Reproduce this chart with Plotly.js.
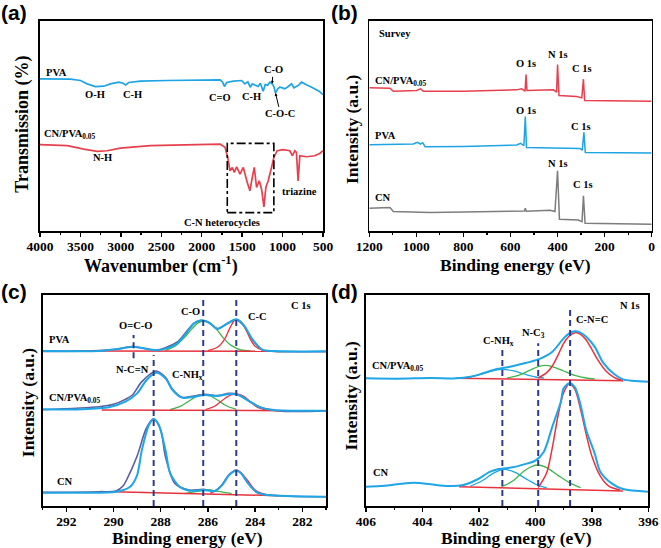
<!DOCTYPE html>
<html><head><meta charset="utf-8">
<script src="https://cdn.plot.ly/plotly-3.0.1.min.js"></script>
<style>html,body{margin:0;padding:0;background:#fff}#chart{width:661px;height:548px}</style>
</head><body><div id="chart"></div>
<script>
// ===== (a) FTIR =====
const ftirPvaWn = [4000,3869,3622,3499,3417,3314,3211,3129,3026,2973,2940,2903,2759,2431,2020,1773,1741,1720,1691,1609,1506,1466,1430,1400,1375,1340,1302,1275,1240,1215,1185,1158,1129,1108,1088,1060,1035,1000,973,930,890,860,829,800,767,720,686,640,603,550,500];
const ftirPvaT  = [455,455,454,450,440,432,433,440,445,442,437,444,448,450,452,452,445,432,444,448,450,440,446,430,440,436,432,442,418,438,436,445,440,432,413,425,430,428,425,432,440,428,432,436,445,438,435,430,425,418,408];
const ftirCnpWn = [4000,3663,3458,3293,3170,3006,2636,2184,1773,1712,1679,1650,1622,1597,1568,1527,1486,1437,1404,1375,1350,1322,1289,1260,1231,1207,1178,1137,1108,1067,993,911,878,849,829,808,787,705,603,541,500];
const ftirCnpT  = [258,255,245,238,240,248,255,258,260,250,220,180,190,175,192,170,190,145,120,160,190,130,150,125,72,130,150,190,220,240,243,240,225,240,235,150,225,222,225,232,240];
const ftirBoxWn = [1684,1108];
const ftirBoxT  = [55,262];

// ===== (b) XPS survey =====
const svCnpBe = [1200,1112,1098,999,982,970,800,574,553,538,534,530,418,404,400,394,319,297,290,285,0];
const svCnpI  = [428,427,418,420,425,418,418,422,425,418,468,420,422,415,498,405,402,398,454,390,388];
const svPvaBe = [1200,1013,996,982,973,963,800,574,557,543,537,532,305,295,288,282,0];
const svPvaI  = [258,260,265,260,264,252,253,257,262,255,342,250,247,242,295,235,233];
const svCnBe  = [1200,1112,1098,942,800,541,537,533,432,411,400,392,312,296,290,283,0];
const svCnI   = [68,70,58,55,57,60,68,59,62,58,180,35,33,28,105,23,20];

// ===== (c) C 1s =====
const cPvaRawBe = [293.0,290.6,289.9,289.2,288.8,288.2,287.8,287.3,286.9,286.6,286.3,286.0,285.6,285.2,284.8,284.5,284.1,283.7,283.2,281.0];
const cPvaRawI  = [464,466,470,478,474,468,475,492,524,548,556,553,532,546,559,542,497,468,464,463];
const cPvaFitBe = [293.0,290.6,289.9,289.2,288.8,288.2,287.8,287.3,286.9,286.6,286.3,285.9,285.6,285.2,284.8,284.5,284.1,283.7,283.2,281.0];
const cPvaFitI  = [465,465,470,478,474,467,472,488,520,547,557,547,531,547,560,544,499,469,465,464];
const cPvaCoBe  = [287.8,287.4,287.0,286.7,286.4,286.2,285.9,285.6,285.3,285.0,284.6,284.2];
const cPvaCoI   = [467,479,505,530,550,555,548,527,500,481,468,465];
const cPvaCcBe  = [286.0,285.6,285.3,285.1,284.9,284.8,284.6,284.4,284.2,284.0,283.7,283.4];
const cPvaCcI   = [466,476,500,530,555,559,553,530,500,479,468,465];
const cPvaBaseBe = [291.0,282.5];
const cPvaBaseI  = [465,464];

const cCnpRawBe = [293.0,290.6,290.0,289.5,289.2,288.8,288.2,287.8,287.5,287.1,286.6,286.1,285.6,285.1,284.7,284.3,283.8,283.0,281.0];
const cCnpRawI  = [289,298,305,320,333,373,405,386,350,326,330,335,331,338,334,317,297,285,285];
const cCnpFitBe = [293.0,291.3,290.2,289.5,289.0,288.6,288.2,287.8,287.5,287.1,286.6,286.1,285.6,285.1,284.7,284.3,283.8,283.2,281.0];
const cCnpFitI  = [290,290,296,313,338,378,400,383,348,325,328,333,330,336,333,316,296,288,286];
const cCnpNhBe  = [287.6,287.2,286.8,286.5,286.2,285.9,285.6,285.2,284.8];
const cCnpNhI   = [289,298,315,328,333,330,318,300,290];
const cCnpCcBe  = [286.1,285.7,285.3,285.0,284.8,284.5,284.2,283.9,283.5];
const cCnpCcI   = [289,300,322,334,336,330,312,296,288];
const cCnpBaseBe = [290.5,282.8];
const cCnpBaseI  = [288,286];

const cCnRawBe = [293.0,290.6,289.9,289.6,289.4,289.0,288.6,288.3,288.0,287.8,287.4,286.8,286.2,285.7,285.4,285.1,284.8,284.6,284.3,283.9,282.7,281.0];
const cCnRawI  = [41,43,45,60,85,150,235,262,228,148,68,48,50,46,64,94,108,99,68,40,30,28];
const cCnFitBe = [293.0,291.3,289.9,289.3,289.0,288.8,288.5,288.3,288.1,287.8,287.6,287.2,286.8,286.2,285.7,285.4,285.1,284.8,284.6,284.3,283.9,283.5,281.0];
const cCnFitI  = [40,40,43,58,93,168,243,260,246,168,98,58,46,48,45,63,93,106,98,68,40,33,28];
const cCnNhBe  = [287.0,286.5,286.0,285.5,285.0];
const cCnNhI   = [37,43,48,43,37];
const cCnCcBe  = [285.9,285.5,285.2,285.0,284.8,284.6,284.3,284.0,283.6];
const cCnCcI   = [38,55,85,100,106,100,75,48,35];
const cCnBaseBe = [290.0,283.0];
const cCnBaseI  = [43,31];

const cRefBe     = [289.15,288.3,286.2,284.8];
const cRefTop    = [513,453,628,628];
const cRefBottom = [443,0,0,0];

// ===== (d) N 1s =====
const dCnpFitBe = [406.0,404.9,403.7,402.8,402.3,401.9,401.4,400.9,400.5,399.9,399.4,399.0,398.8,398.6,398.4,398.2,397.9,397.6,397.2,396.9,396.0];
const dCnpFitI  = [383,382,384,383,388,397,410,418,426,440,463,503,518,524,520,508,478,430,395,380,373];
const dCnpNhBe  = [402.4,402.0,401.6,401.2,400.8,400.4,400.0,399.7];
const dCnpNhI   = [385,393,404,410,406,396,387,384];
const dCnpNcBe  = [401.0,400.6,400.2,399.9,399.65,399.4,399.0,398.6,398.2,397.9];
const dCnpNcI   = [384,392,407,418,422,418,405,392,384,381];
const dCnpCnBe  = [399.9,399.6,399.4,399.2,399.0,398.8,398.6,398.4,398.2,398.0,397.8,397.5,397.2,396.9];
const dCnpCnI   = [384,400,420,452,488,510,520,515,498,470,440,405,385,376];
const dCnpBaseBe = [402.8,396.9];
const dCnpBaseI  = [383,376];

const dCnFitBe = [406.0,405.5,404.9,404.3,403.7,403.1,402.6,402.1,401.6,401.3,400.8,400.4,400.0,399.7,399.4,399.1,399.0,398.8,398.6,398.4,398.2,397.9,397.7,397.3,396.9,396.0];
const dCnFitI  = [58,60,65,70,65,60,62,78,103,111,116,125,136,163,238,313,353,368,356,303,228,158,103,68,51,43];
const dCnNhBe  = [402.3,401.9,401.5,401.1,400.7,400.3,399.9,399.6];
const dCnNhI   = [60,75,98,110,100,80,62,55];
const dCnNcBe  = [401.2,400.8,400.4,400.1,399.9,399.6,399.2,398.8,398.4];
const dCnNcI   = [58,75,105,120,123,115,92,70,55];
const dCnCnBe  = [399.9,399.6,399.4,399.2,399.0,398.8,398.6,398.4,398.2,398.0,397.7,397.4,397.0];
const dCnCnI   = [55,100,175,270,340,366,350,290,215,150,90,60,48];
const dCnBaseBe = [402.7,396.9];
const dCnBaseI  = [58,45];

const dRefBe     = [401.17,399.9,398.77];
const dRefTop    = [468,488,596];
const dRefBottom = [0,0,0];

// ===== styling =====
const SERIF = 'Liberation Serif';
const SANS = 'Liberation Sans';
const C_BLUE = '#1ea4e4', C_RED = '#e6404e', C_GRAY = '#7d7d7d';
const C_FIT = '#1ea6e6', C_RAW = '#5d5c9c', C_CRED = '#e8323e', C_GREEN = '#3db54b', C_DASH = '#2f3a8c';

function line(x, y, xa, ya, color, width, shape) {
  return {x, y, xaxis: xa, yaxis: ya, type: 'scatter', mode: 'lines', hoverinfo: 'skip',
    line: {color, width, shape: shape || 'linear', smoothing: 0.8}};
}
function refLines(xs, tops, bots, xa, ya) {
  return xs.map((v, i) => ({x: [v, v], y: [bots[i], tops[i]], xaxis: xa, yaxis: ya, type: 'scatter',
    mode: 'lines', hoverinfo: 'skip', line: {color: C_DASH, width: 2, dash: '6px,4px'}}));
}

const traces = [
  line(ftirPvaWn, ftirPvaT, 'x', 'y', C_BLUE, 1.7),
  line(ftirCnpWn, ftirCnpT, 'x', 'y', C_RED, 1.7),
  line(svCnpBe, svCnpI, 'x2', 'y2', C_RED, 1.5),
  line(svPvaBe, svPvaI, 'x2', 'y2', C_BLUE, 1.5),
  line(svCnBe, svCnI, 'x2', 'y2', C_GRAY, 1.5),
];
[[cPvaRawBe,cPvaRawI,cPvaCoBe,cPvaCoI,cPvaCcBe,cPvaCcI,cPvaBaseBe,cPvaBaseI,cPvaFitBe,cPvaFitI],
 [cCnpRawBe,cCnpRawI,cCnpNhBe,cCnpNhI,cCnpCcBe,cCnpCcI,cCnpBaseBe,cCnpBaseI,cCnpFitBe,cCnpFitI],
 [cCnRawBe,cCnRawI,cCnNhBe,cCnNhI,cCnCcBe,cCnCcI,cCnBaseBe,cCnBaseI,cCnFitBe,cCnFitI]].forEach(s => {
  traces.push(line(s[0], s[1], 'x3', 'y3', C_RAW, 1.6, 'spline'));
  traces.push(line(s[2], s[3], 'x3', 'y3', C_GREEN, 1.3, 'spline'));
  traces.push(line(s[4], s[5], 'x3', 'y3', C_CRED, 1.3, 'spline'));
  traces.push(line(s[6], s[7], 'x3', 'y3', C_CRED, 1.5));
  traces.push(line(s[8], s[9], 'x3', 'y3', C_FIT, 2, 'spline'));
});
traces.push(...refLines(cRefBe, cRefTop, cRefBottom, 'x3', 'y3'));
[[dCnpNhBe,dCnpNhI,dCnpNcBe,dCnpNcI,dCnpCnBe,dCnpCnI,dCnpBaseBe,dCnpBaseI,dCnpFitBe,dCnpFitI],
 [dCnNhBe,dCnNhI,dCnNcBe,dCnNcI,dCnCnBe,dCnCnI,dCnBaseBe,dCnBaseI,dCnFitBe,dCnFitI]].forEach(s => {
  traces.push(line(s[0], s[1], 'x4', 'y4', C_FIT, 1.3, 'spline'));
  traces.push(line(s[2], s[3], 'x4', 'y4', C_GREEN, 1.3, 'spline'));
  traces.push(line(s[4], s[5], 'x4', 'y4', C_CRED, 1.5, 'spline'));
  traces.push(line(s[6], s[7], 'x4', 'y4', C_CRED, 1.5));
  traces.push(line(s[8], s[9], 'x4', 'y4', C_FIT, 2, 'spline'));
});
traces.push(...refLines(dRefBe, dRefTop, dRefBottom, 'x4', 'y4'));

function axX(domain, range, dtick, minor, anchor) {
  return {domain, range, anchor, tick0: 0, dtick, ticks: 'outside', ticklen: 4, tickwidth: 1.5, tickcolor: '#000',
    minor: {dtick: minor, ticks: 'outside', ticklen: 2.5, tickwidth: 1.2, tickcolor: '#000', showgrid: false},
    showline: true, linecolor: '#000', linewidth: 1.6, mirror: true, showgrid: false, zeroline: false,
    tickfont: {family: SERIF, size: 13.5, weight: 'bold', color: '#000'}, ticklabelstandoff: -2};
}
function axY(domain, range, anchor) {
  return {domain, range, anchor, showticklabels: false, ticks: '', showline: true, linecolor: '#000', linewidth: 1.6,
    mirror: true, showgrid: false, zeroline: false};
}

function lab(text, x, y, xr, yr, xanchor, size) {
  return {text, x, y, xref: xr, yref: yr, xanchor: xanchor || 'center', yanchor: 'middle', showarrow: false,
    font: {family: SERIF, size: size || 10.5, weight: 'bold', color: '#000'}};
}
function panel(text, x, y, yanchor) {
  return {text, x, y, xref: 'paper', yref: 'paper', xanchor: 'left', yanchor: yanchor || 'middle', showarrow: false,
    borderpad: 0, font: {family: SANS, size: 21, weight: 'bold', color: '#000'}};
}
function axTitle(text, x, y, angle, size) {
  return {text, x, y, xref: 'paper', yref: 'paper', xanchor: 'center', yanchor: 'middle', showarrow: false,
    textangle: angle || 0, borderpad: 0, font: {family: SERIF, size: size || 17.5, weight: 'bold', color: '#000'}};
}
function arrowLab(text, x, y, ax, ay) {
  return {text, x, y, xref: 'x', yref: 'y', ax, ay, showarrow: true, arrowhead: 2, arrowsize: 0.6, arrowwidth: 1,
    arrowcolor: '#000', standoff: 0, startstandoff: 0,
    font: {family: SERIF, size: 10.5, weight: 'bold', color: '#000'}};
}

const annotations = [
  panel('(a)', 0.0, 1.0, 'top'), panel('(b)', 0.4992, 1.0, 'top'),
  panel('(c)', 0.0, 0.468), panel('(d)', 0.4992, 0.468),
  // axis titles
  axTitle('Wavenumber (cm<sup>-1</sup>)', 0.2436, 0.517, 0, 18),
  axTitle('Binding energy (eV)', 0.7806, 0.517),
  axTitle('Binding energy (eV)', 0.2837, 0.0175),
  axTitle('Binding energy (eV)', 0.7817, 0.0175),
  axTitle('Transmission (%)', 0.0328, 0.7737, -90, 18),
  axTitle('Intensity (a.u.)', 0.5325, 0.7646, -90),
  axTitle('Intensity (a.u.)', 0.0416, 0.267, -90),
  axTitle('Intensity (a.u.)', 0.5303, 0.2774, -90),
  // a
  lab('PVA', 3951, 475, 'x', 'y', 'left'),
  lab('O-H', 3314, 408, 'x', 'y'),
  lab('C-H', 2862, 408, 'x', 'y'),
  lab('C=O', 1773, 400, 'x', 'y'),
  lab('C-H', 1383, 403, 'x', 'y'),
  arrowLab('C-O', 1129, 440, 1, -14),
  arrowLab('C-O-C', 1088, 413, 5, 21),
  lab('CN/PVA<sub>0.05</sub>', 3972, 290, 'x', 'y', 'left'),
  lab('N-H', 3232, 220, 'x', 'y'),
  lab('triazine', 796, 117, 'x', 'y'),
  lab('C-N heterocycles', 1753, 25, 'x', 'y'),
  // b
  lab('Survey', 1169, 590, 'x2', 'y2', 'left'),
  lab('CN/PVA<sub>0.05</sub>', 1183, 448, 'x2', 'y2', 'left'),
  lab('O 1s', 536, 502, 'x2', 'y2'),
  lab('N 1s', 400, 527, 'x2', 'y2'),
  lab('C 1s', 298, 487, 'x2', 'y2'),
  lab('PVA', 1183, 285, 'x2', 'y2', 'left'),
  lab('O 1s', 536, 360, 'x2', 'y2'),
  lab('C 1s', 302, 312, 'x2', 'y2'),
  lab('CN', 1183, 100, 'x2', 'y2', 'left'),
  lab('N 1s', 400, 202, 'x2', 'y2'),
  lab('C 1s', 293, 140, 'x2', 'y2'),
  // c
  lab('C 1s', 282.04, 600, 'x3', 'y3'),
  lab('C-O', 286.75, 583, 'x3', 'y3', 'center'),
  lab('C-C', 283.9, 568, 'x3', 'y3'),
  lab('O=C-O', 289.07, 540, 'x3', 'y3'),
  lab('PVA', 292.8, 498, 'x3', 'y3', 'left'),
  lab('N-C=N', 289.18, 408, 'x3', 'y3'),
  lab('C-NH<sub>x</sub>', 286.85, 390, 'x3', 'y3'),
  lab('CN/PVA<sub>0.05</sub>', 292.8, 323, 'x3', 'y3', 'left'),
  lab('CN', 292.5, 73, 'x3', 'y3', 'left'),
  // d
  lab('N 1s', 396.65, 600, 'x4', 'y4'),
  lab('C-N=C', 398.0, 560, 'x4', 'y4'),
  lab('N-C<sub>3</sub>', 400.05, 518, 'x4', 'y4'),
  lab('C-NH<sub>x</sub>', 401.3, 493, 'x4', 'y4'),
  lab('CN/PVA<sub>0.05</sub>', 405.86, 418, 'x4', 'y4', 'left'),
  lab('CN', 405.83, 100, 'x4', 'y4', 'left'),
];

const layout = {
  width: 661, height: 548, margin: {l: 0, r: 0, t: 0, b: 0},
  paper_bgcolor: '#fff', plot_bgcolor: '#fff', showlegend: false,
  font: {family: SERIF, color: '#000'},
  xaxis:  axX([0.0605, 0.4887], [4000, 500], 500, 250, 'y'),
  yaxis:  axY([0.5785, 0.9617], [0, 628], 'x'),
  xaxis2: axX([0.5587, 0.9859], [1200, 0], 200, 100, 'y2'),
  yaxis2: axY([0.5785, 0.9617], [0, 628], 'x2'),
  xaxis3: axX([0.0646, 0.4932], [293, 281], 2, 1, 'y3'),
  yaxis3: axY([0.0766, 0.4617], [0, 633], 'x3'),
  xaxis4: axX([0.5537, 0.9808], [406, 396], 2, 1, 'y4'),
  yaxis4: axY([0.0766, 0.4617], [0, 633], 'x4'),
  annotations,
  shapes: [{type: 'rect', xref: 'x', yref: 'y', x0: ftirBoxWn[0], x1: ftirBoxWn[1], y0: ftirBoxT[0], y1: ftirBoxT[1],
    line: {color: '#000', width: 1.6, dash: 'dashdot'}}]
};

Plotly.newPlot('chart', traces, layout, {displayModeBar: false, staticPlot: true});
</script></body></html>
